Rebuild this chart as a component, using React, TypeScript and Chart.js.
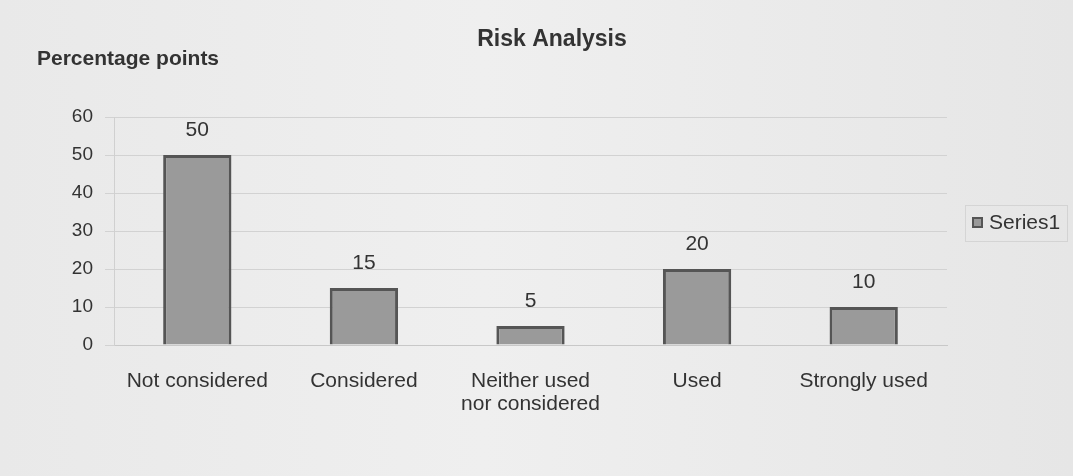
import { useEffect, useRef } from "react";
import { Chart, registerables } from "chart.js";

Chart.register(...registerables);

// Chart content
const chartTitle = "Risk Analysis";
const axisTitle = "Percentage points";
const seriesName = "Series1";
const categories: (string | string[])[] = [
  "Not considered",
  "Considered",
  ["Neither used", "nor considered"],
  "Used",
  "Strongly used",
];
const values = [50, 15, 5, 20, 10];
const yMin = 0;
const yMax = 60;
const yStep = 10;

const FONT = "'Liberation Sans', Arial, Helvetica, sans-serif";
const TEXT = "#333333";
const BAR_FILL = "#9a9a9a";
const BAR_EDGE = "#555555";

// Background, headings, value labels and the legend box
const decorations = {
  id: "decorations",
  beforeDraw(chart: any) {
    const { ctx, width, height } = chart;
    ctx.save();
    const g = ctx.createLinearGradient(0, 0, width, 0);
    g.addColorStop(0, "#e9e9e9");
    g.addColorStop(0.45, "#efefef");
    g.addColorStop(1, "#e6e6e6");
    ctx.fillStyle = g;
    ctx.fillRect(0, 0, width, height);
    ctx.restore();
  },
  afterDatasetsDraw(chart: any) {
    const { ctx } = chart;
    ctx.save();
    ctx.fillStyle = TEXT;
    ctx.textBaseline = "middle";

    ctx.font = `bold 23px ${FONT}`;
    ctx.textAlign = "center";
    ctx.fillText(chartTitle, 552, 40);

    ctx.font = `bold 21px ${FONT}`;
    ctx.textAlign = "left";
    ctx.fillText(axisTitle, 37, 59);

    // value labels above each bar
    ctx.font = `21px ${FONT}`;
    ctx.textAlign = "center";
    const meta = chart.getDatasetMeta(0);
    meta.data.forEach((bar: any, i: number) => {
      ctx.fillText(String(values[i]), bar.x, bar.y - 25);
    });

    // legend
    ctx.strokeStyle = "rgba(170,170,170,0.3)";
    ctx.lineWidth = 1;
    ctx.strokeRect(965.5, 205.5, 102, 36);
    ctx.fillStyle = BAR_FILL;
    ctx.fillRect(972, 217, 11, 11);
    ctx.strokeStyle = BAR_EDGE;
    ctx.lineWidth = 2;
    ctx.strokeRect(973, 218, 9, 9);
    ctx.fillStyle = TEXT;
    ctx.font = `21px ${FONT}`;
    ctx.textAlign = "left";
    ctx.fillText(seriesName, 989, 223);
    ctx.restore();
  },
};

export default function App() {
  const ref = useRef<HTMLCanvasElement>(null);

  useEffect(() => {
    if (!ref.current) return;
    const chart = new Chart(ref.current, {
      type: "bar",
      data: {
        labels: categories as any,
        datasets: [
          {
            label: seriesName,
            data: values,
            backgroundColor: BAR_FILL,
            borderColor: BAR_EDGE,
            borderWidth: 3,
            barPercentage: 0.82,
            categoryPercentage: 0.5,
          },
        ],
      },
      options: {
        responsive: false,
        animation: false,
        layout: { padding: { top: 117, right: 126, bottom: 0, left: 0 } },
        plugins: {
          legend: { display: false },
          title: { display: false },
          tooltip: { enabled: false },
        },
        scales: {
          x: {
            grid: { display: false },
            border: { display: true, color: "#c8c8c8", width: 1 },
            ticks: {
              color: TEXT,
              font: { family: FONT, size: 21, lineHeight: 1.1 },
              padding: 17,
              maxRotation: 0,
              autoSkip: false,
            },
            afterFit(scale: any) {
              scale.height = 476 - 345;
            },
          },
          y: {
            min: yMin,
            max: yMax,
            grid: { color: "#d2d2d2", lineWidth: 1, tickLength: 9 },
            border: { display: true, color: "#d0d0d0", width: 1 },
            ticks: {
              stepSize: yStep,
              color: TEXT,
              font: { family: FONT, size: 19 },
              padding: 12,
            },
            afterFit(scale: any) {
              scale.width = 114;
            },
          },
        },
      },
      plugins: [decorations],
    });
    return () => chart.destroy();
  }, []);

  return (
    <div style={{ position: "absolute", left: 0, top: 0, width: 1073, height: 476 }}>
      <canvas ref={ref} width={1073} height={476} />
    </div>
  );
}
